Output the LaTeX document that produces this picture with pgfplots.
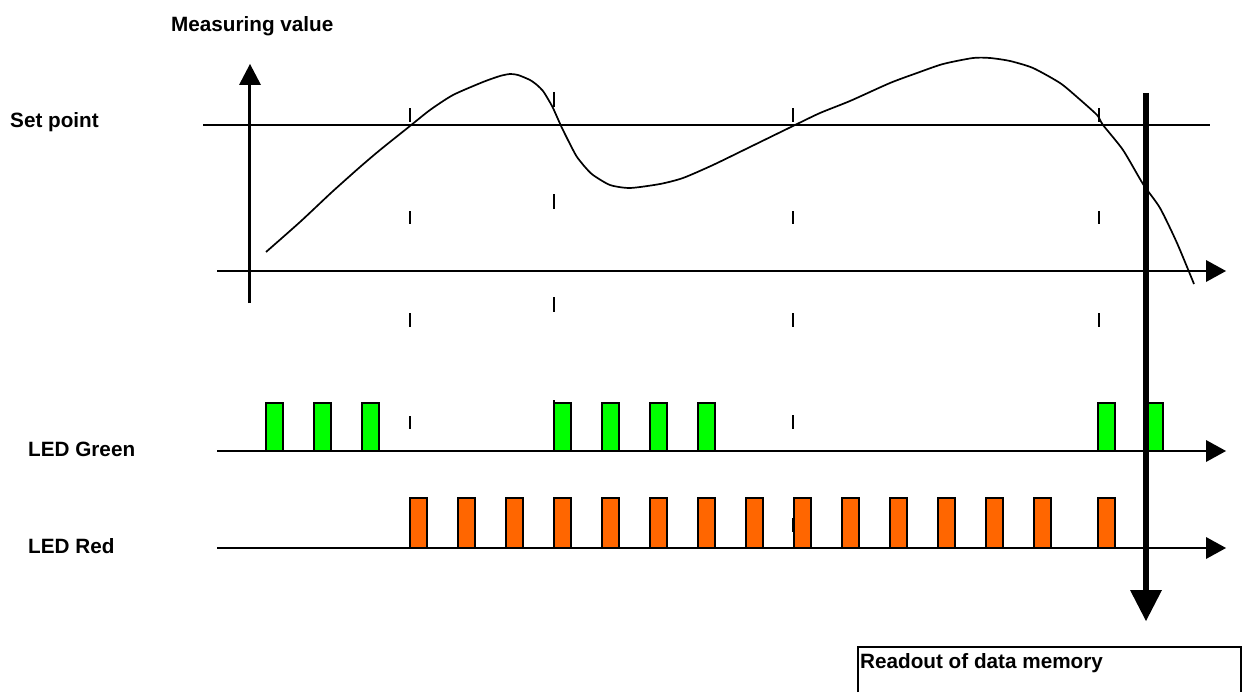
\documentclass[border=0pt]{standalone}
\usepackage{pgfplots}
\pgfplotsset{compat=1.18}
\usepackage{fontspec}
\setmainfont{Liberation Sans}
\definecolor{ledgreen}{HTML}{00FF00}
\definecolor{ledred}{HTML}{FF6600}
\begin{document}
\begin{tikzpicture}
\begin{axis}[
  scale only axis, width=1243pt, height=692pt,
  xmin=0, xmax=1243, ymin=0, ymax=692, y dir=reverse,
  hide axis, clip=false,
  every axis plot/.append style={line join=miter, line cap=butt},
]
\addplot[draw=none] coordinates {(0,0) (1243,692)};
% --- small tick dashes
\addplot[black, line width=2.3pt, unbounded coords=jump] coordinates {
 (410,108) (410,122) (nan,nan) (410,211) (410,224) (nan,nan) (410,313) (410,327) (nan,nan) (410,416) (410,429) (nan,nan) (410,518) (410,532) (nan,nan)
 (554,92) (554,107) (nan,nan) (554,194) (554,209) (nan,nan) (554,297) (554,312) (nan,nan) (554,400) (554,414) (nan,nan) (554,502) (554,516) (nan,nan)
 (793,108) (793,122) (nan,nan) (793,211) (793,224) (nan,nan) (793,313) (793,327) (nan,nan) (793,415) (793,429) (nan,nan) (793,518) (793,532) (nan,nan)
 (1099,108) (1099,122) (nan,nan) (1099,211) (1099,224) (nan,nan) (1099,313) (1099,327) (nan,nan) (1099,416) (1099,429) (nan,nan) (1099,518) (1099,532)
};
% --- set point line
\addplot[black, line width=2.1pt] coordinates {(203,125) (1210,125)};
% --- measuring value axes
\addplot[black, line width=2.1pt] coordinates {(249.5,303) (249.5,84)};
\addplot[black, fill=black, draw=none] coordinates {(239,85) (261,85) (250,64)} -- cycle;
\addplot[black, line width=2.1pt] coordinates {(217,271) (1207,271)};
\addplot[black, fill=black, draw=none] coordinates {(1206,260) (1206,282) (1226,271)} -- cycle;
% --- LED baselines
\addplot[black, line width=2.1pt] coordinates {(217,451) (1207,451)};
\addplot[black, fill=black, draw=none] coordinates {(1206,440) (1206,462) (1226,451)} -- cycle;
\addplot[black, line width=2.1pt] coordinates {(217,548) (1207,548)};
\addplot[black, fill=black, draw=none] coordinates {(1206,537) (1206,559) (1226,548)} -- cycle;
% --- green LED pulses
\addplot[fill=ledgreen, draw=black, line width=2pt] coordinates {(266,451) (266,403) (283,403) (283,451)} -- cycle;
\addplot[fill=ledgreen, draw=black, line width=2pt] coordinates {(314,451) (314,403) (331,403) (331,451)} -- cycle;
\addplot[fill=ledgreen, draw=black, line width=2pt] coordinates {(362,451) (362,403) (379,403) (379,451)} -- cycle;
\addplot[fill=ledgreen, draw=black, line width=2pt] coordinates {(554,451) (554,403) (571,403) (571,451)} -- cycle;
\addplot[fill=ledgreen, draw=black, line width=2pt] coordinates {(602,451) (602,403) (619,403) (619,451)} -- cycle;
\addplot[fill=ledgreen, draw=black, line width=2pt] coordinates {(650,451) (650,403) (667,403) (667,451)} -- cycle;
\addplot[fill=ledgreen, draw=black, line width=2pt] coordinates {(698,451) (698,403) (715,403) (715,451)} -- cycle;
\addplot[fill=ledgreen, draw=black, line width=2pt] coordinates {(1098,451) (1098,403) (1115,403) (1115,451)} -- cycle;
\addplot[fill=ledgreen, draw=black, line width=2pt] coordinates {(1146,451) (1146,403) (1163,403) (1163,451)} -- cycle;
% --- red LED pulses
\addplot[fill=ledred, draw=black, line width=2pt] coordinates {(410,548) (410,498) (427,498) (427,548)} -- cycle;
\addplot[fill=ledred, draw=black, line width=2pt] coordinates {(458,548) (458,498) (475,498) (475,548)} -- cycle;
\addplot[fill=ledred, draw=black, line width=2pt] coordinates {(506,548) (506,498) (523,498) (523,548)} -- cycle;
\addplot[fill=ledred, draw=black, line width=2pt] coordinates {(554,548) (554,498) (571,498) (571,548)} -- cycle;
\addplot[fill=ledred, draw=black, line width=2pt] coordinates {(602,548) (602,498) (619,498) (619,548)} -- cycle;
\addplot[fill=ledred, draw=black, line width=2pt] coordinates {(650,548) (650,498) (667,498) (667,548)} -- cycle;
\addplot[fill=ledred, draw=black, line width=2pt] coordinates {(698,548) (698,498) (715,498) (715,548)} -- cycle;
\addplot[fill=ledred, draw=black, line width=2pt] coordinates {(746,548) (746,498) (763,498) (763,548)} -- cycle;
\addplot[fill=ledred, draw=black, line width=2pt] coordinates {(794,548) (794,498) (811,498) (811,548)} -- cycle;
\addplot[fill=ledred, draw=black, line width=2pt] coordinates {(842,548) (842,498) (859,498) (859,548)} -- cycle;
\addplot[fill=ledred, draw=black, line width=2pt] coordinates {(890,548) (890,498) (907,498) (907,548)} -- cycle;
\addplot[fill=ledred, draw=black, line width=2pt] coordinates {(938,548) (938,498) (955,498) (955,548)} -- cycle;
\addplot[fill=ledred, draw=black, line width=2pt] coordinates {(986,548) (986,498) (1003,498) (1003,548)} -- cycle;
\addplot[fill=ledred, draw=black, line width=2pt] coordinates {(1034,548) (1034,498) (1051,498) (1051,548)} -- cycle;
\addplot[fill=ledred, draw=black, line width=2pt] coordinates {(1098,548) (1098,498) (1115,498) (1115,548)} -- cycle;
% --- measuring value curve
\addplot[black, line width=1.7pt, smooth, tension=0.4, line join=round] coordinates {
 (266,252) (300,222) (332,192) (360,167) (380,150) (410,126) (430,110) (453,95)
 (483,82) (500,76) (510,74) (518,75) (530,80) (537,85) (543,91) (548,99) (553,108)
 (562,128) (572,148) (577,157) (585,167) (593,175) (610,185) (630,188) (660,184)
 (683,178) (713,165) (750,147) (793,126) (820,113) (850,101) (890,83) (917,73)
 (943,64) (973,58) (990,58) (1010,61) (1033,68) (1060,83) (1077,97) (1097,115)
 (1103,125) (1123,150) (1143,184) (1160,208) (1177,243) (1194,284)
};
% --- readout line and arrow
\addplot[black, line width=6pt] coordinates {(1146,93) (1146,591)};
\addplot[black, fill=black, draw=none] coordinates {(1130,590) (1162,590) (1146,621)} -- cycle;
% --- readout box
\addplot[black, line width=2pt] coordinates {(858,692) (858,647) (1241,647) (1241,692)};
% --- labels
\node[anchor=base west, inner sep=0pt, font=\fontsize{20.7}{24}\selectfont\bfseries] at (axis cs:171,32) {Measuring value};
\node[anchor=base west, inner sep=0pt, font=\fontsize{20.7}{24}\selectfont\bfseries] at (axis cs:10,128) {Set point};
\node[anchor=base west, inner sep=0pt, font=\fontsize{20.7}{24}\selectfont\bfseries] at (axis cs:28,456) {LED Green};
\node[anchor=base west, inner sep=0pt, font=\fontsize{20.7}{24}\selectfont\bfseries] at (axis cs:28,553) {LED Red};
\node[anchor=base west, inner sep=0pt, font=\fontsize{20.7}{24}\selectfont\bfseries] at (axis cs:860,668) {Readout of data memory};
\end{axis}
\end{tikzpicture}
\end{document}
